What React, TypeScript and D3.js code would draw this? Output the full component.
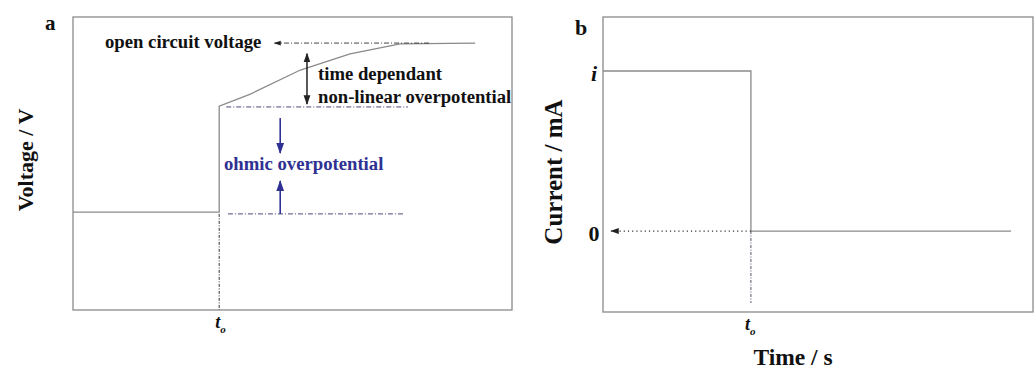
import React from "react";
import * as d3 from "d3";

// Panel a: voltage response (arbitrary units, 0-100)
const voltX = [0, 33.3, 33.3, 40.4, 51.8, 63.1, 74.5, 91.6];
const voltY = [33.4, 33.4, 69.6, 73.7, 81.9, 87.4, 90.8, 91.1];
const ocvLevel = 91.1;
const ohmicTop = 69.3;
const baseLevel = 32.8;
const t0a = 33.3;

// Panel b: current step
const currX = [0, 34.4, 34.4, 94.9];
const currY = [1, 1, 0, 0];
const t0b = 34.4;
const currTicks = ["i", "0"];

const FONT = "'Liberation Serif', 'Times New Roman', serif";
const GRAY = "#8a8a8a";
const BLUE = "#2e3192";
const ANN = 18.7;

export default function App() {
  // panel a scales
  const xa = d3.scaleLinear().domain([0, 100]).range([73, 512]);
  const ya = d3.scaleLinear().domain([0, 100]).range([310, 17]);
  // panel b scales
  const xb = d3.scaleLinear().domain([0, 100]).range([603, 1033]);
  const yb = d3.scaleLinear().domain([-0.506, 1.3375]).range([312, 17]);

  const lineA = d3.line<number>()
    .x((_, i) => xa(voltX[i]))
    .y((d) => ya(d))
    .curve(d3.curveLinear);
  const voltPath = lineA(voltY) || "";

  const lineB = d3.line<number>().x((_, i) => xb(currX[i])).y((d) => yb(d));
  const currPath = lineB(currY) || "";

  const dashDot = "5,2,1,2";

  return (
    <svg width={1035} height={369} style={{ position: "absolute", left: 0, top: 0, background: "#fff" }} fontFamily={FONT}>
      <defs>
        <marker id="arrBlack" viewBox="0 0 10 10" refX="9" refY="5" markerWidth="7" markerHeight="7" orient="auto-start-reverse">
          <path d="M0,1.5 L10,5 L0,8.5 z" fill="#222" />
        </marker>
        <marker id="arrBlue" viewBox="0 0 10 10" refX="9" refY="5" markerWidth="7" markerHeight="7" orient="auto-start-reverse">
          <path d="M0,1.5 L10,5 L0,8.5 z" fill={BLUE} />
        </marker>
      </defs>

      {/* ---------- Panel a ---------- */}
      <text x={45} y={30} fontSize={21} fontWeight="bold" fill="#111">a</text>
      <rect x={xa(0)} y={ya(100)} width={xa(100) - xa(0)} height={ya(0) - ya(100)} fill="none" stroke={GRAY} strokeWidth={1.3} />
      <path d={voltPath} fill="none" stroke={GRAY} strokeWidth={1.3} />

      {/* t0 vertical dash-dot */}
      <line x1={xa(t0a)} x2={xa(t0a)} y1={ya(baseLevel)} y2={ya(0)} stroke="#333" strokeWidth={1} strokeDasharray="3,1.5,1,1.5" />

      {/* OCV dashed with arrow to left */}
      <line x1={xa(81.1)} x2={xa(45.9)} y1={ya(ocvLevel)} y2={ya(ocvLevel)} stroke="#444" strokeWidth={1} strokeDasharray={dashDot} markerEnd="url(#arrBlack)" />
      <text x={105} y={48} fontSize={ANN} fontWeight="bold" fill="#111">open circuit voltage</text>

      {/* time dependant double arrow */}
      <line x1={xa(53.3)} x2={xa(53.3)} y1={ya(87.5)} y2={ya(70.3)} stroke="#111" strokeWidth={1.4} markerStart="url(#arrBlack)" markerEnd="url(#arrBlack)" />
      <text x={318} y={80} fontSize={ANN} fontWeight="bold" fill="#111">time dependant</text>
      <text x={318} y={103} fontSize={ANN} fontWeight="bold" fill="#111">non-linear overpotential</text>

      {/* ohmic top dash-dot */}
      <line x1={xa(34.9)} x2={xa(76.3)} y1={ya(ohmicTop)} y2={ya(ohmicTop)} stroke="#4a4a7a" strokeWidth={1} strokeDasharray={dashDot} />
      {/* ohmic bottom dash-dot */}
      <line x1={xa(35.3)} x2={xa(75.6)} y1={ya(baseLevel)} y2={ya(baseLevel)} stroke="#4a4a7a" strokeWidth={1} strokeDasharray={dashDot} />

      {/* ohmic arrows */}
      <line x1={xa(47.2)} x2={xa(47.2)} y1={ya(65.5)} y2={ya(53.6)} stroke={BLUE} strokeWidth={1.6} markerEnd="url(#arrBlue)" />
      <line x1={xa(47.2)} x2={xa(47.2)} y1={ya(baseLevel)} y2={ya(44)} stroke={BLUE} strokeWidth={1.6} markerEnd="url(#arrBlue)" />
      <text x={224} y={170} fontSize={ANN} fontWeight="bold" fill={BLUE}>ohmic overpotential</text>

      <text x={xa(t0a) - 4} y={328} fontSize={18} fontWeight="bold" fontStyle="italic" fill="#111">t<tspan fontSize={11} dy={5}>o</tspan></text>
      <text transform={`translate(33,${160}) rotate(-90)`} fontSize={22} fontWeight="bold" fill="#111" textAnchor="middle">Voltage / V</text>

      {/* ---------- Panel b ---------- */}
      <text x={575} y={35} fontSize={22} fontWeight="bold" fill="#111">b</text>
      <rect x={xb(0)} y={yb(1.3375)} width={xb(100) - xb(0)} height={yb(-0.506) - yb(1.3375)} fill="none" stroke={GRAY} strokeWidth={1.3} />
      <path d={currPath} fill="none" stroke={GRAY} strokeWidth={1.3} />

      {/* dotted arrow to 0 */}
      <line x1={xb(t0b)} x2={xb(1.9)} y1={yb(0)} y2={yb(0)} stroke="#333" strokeWidth={1.2} strokeDasharray="1.2,3" markerEnd="url(#arrBlack)" />
      <line x1={xb(t0b)} x2={xb(t0b)} y1={yb(0)} y2={yb(-0.45)} stroke="#556" strokeWidth={1} strokeDasharray="3,1.5,1,1.5" />

      {currTicks.map((t, k) => (
        <text key={t} x={594} y={yb(k === 0 ? 1 : 0) + 10} fontSize={22} fontWeight="bold" fontStyle={t === "i" ? "italic" : "normal"} fill="#111" textAnchor="middle">{t}</text>
      ))}
      <text x={xb(t0b) - 6} y={330} fontSize={18} fontWeight="bold" fontStyle="italic" fill="#111">t<tspan fontSize={11} dy={5}>o</tspan></text>
      <text transform={`translate(562,${172}) rotate(-90)`} fontSize={25} fontWeight="bold" fill="#111" textAnchor="middle">Current / mA</text>
      <text x={793} y={365} fontSize={23.5} fontWeight="bold" fill="#111" textAnchor="middle">Time / s</text>
    </svg>
  );
}
